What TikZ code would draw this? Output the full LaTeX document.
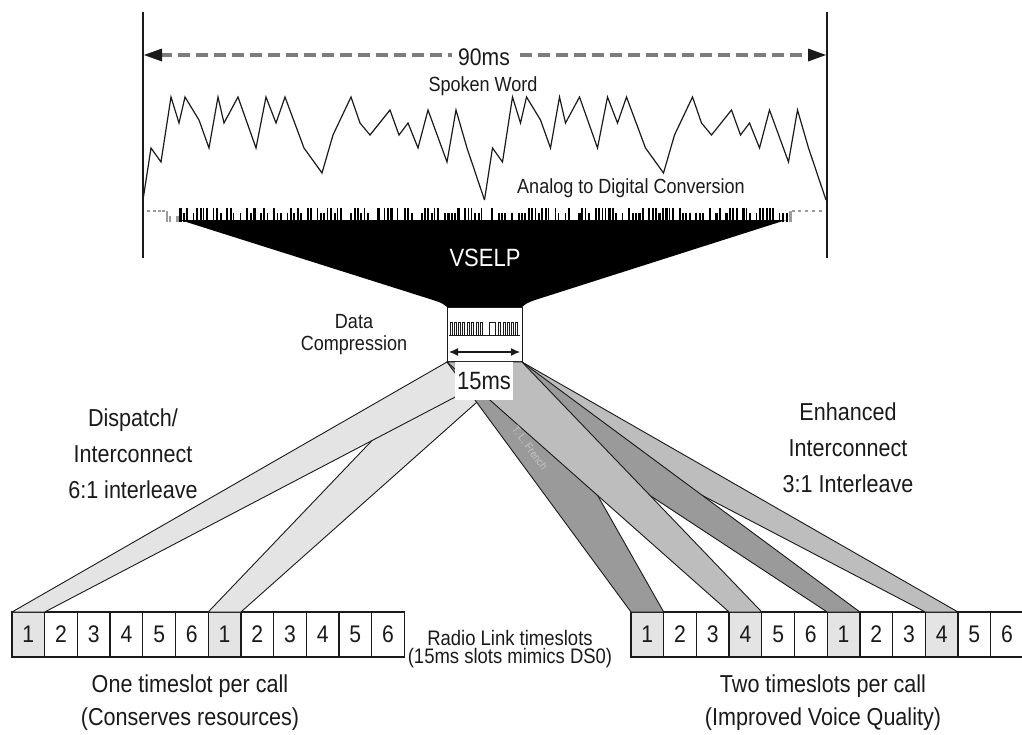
\documentclass[tikz,border=0pt]{standalone}
\usepackage{fontspec}
\setmainfont{Liberation Sans}[FakeStretch=0.88]
\usetikzlibrary{arrows.meta}
\definecolor{ink}{HTML}{1A1A1A}
\definecolor{lite}{HTML}{E4E4E4}
\definecolor{midg}{HTML}{BDBDBD}
\definecolor{darkg}{HTML}{9A9A9A}
\definecolor{dashgray}{HTML}{7C7C7C}
\definecolor{fadegray}{HTML}{9C9C9C}
\definecolor{signgray}{HTML}{C4C4C4}
\tikzset{
  txt/.style={text=ink, inner sep=0pt, align=center},
  big/.style={txt, font=\fontsize{24.5}{36}\selectfont},
  mid/.style={txt, font=\fontsize{20.5}{22}\selectfont},
  slot/.style={draw=ink, line width=1.3pt, minimum width=32.7pt, minimum height=45pt,
               inner sep=0pt, outer sep=0pt, text=ink, font=\fontsize{24}{24}\selectfont},
  beam/.style={draw=ink, line width=0.9pt, line join=round},
  wave/.style={draw=ink, line width=1.2pt, line join=miter},
  tick/.style={ink, line width=1.3pt},
}
\begin{document}
\begin{tikzpicture}[x=1pt,y=-1pt]
\useasboundingbox (0,0) rectangle (1022,734);

% ---- 90 ms frame: end markers and dimension arrow ----
\coordinate (lt) at (143,12);  \coordinate (lb) at (143,258);
\coordinate (rt) at (827,12);  \coordinate (rb) at (827,258);
\draw[tick] (lt) -- (lb);
\draw[tick] (rt) -- (rb);
\coordinate (al) at (144,55);  \coordinate (ar) at (826,55);
\draw[dashgray, line width=3.2pt, dash pattern=on 12pt off 6pt] ([xshift=16pt]al) -- ([xshift=-16pt]ar);
\fill[ink] (al) -- ++(18,-6.5) -- ++(0,13) -- cycle;
\fill[ink] (ar) -- ++(-18,-6.5) -- ++(0,13) -- cycle;
\node[txt, fill=white, inner xsep=6pt, inner ysep=2pt, font=\fontsize{24}{24}\selectfont] (t90) at (484,57) {90ms};
\node[mid] (spoken) at (483,86) {Spoken Word};

% ---- analog speech waveform (two similar halves) ----
\foreach \s in {0,341.5}{
  \draw[wave, shift={(\s,0)}] plot coordinates {
    (143,200) (151,148) (161,162) (171,97) (179,123) (185,97) (199,120) (209,148)
    (218,97) (224,123) (238,97) (256,148) (266,97) (276,123) (285,97) (304,148)
    (322,173) (333,135) (351,97) (360,123) (370,135) (390,110) (399,135) (408,123)
    (418,148) (428,110) (447,162) (456,110) (467,148) (484.5,200)};
}
\node[mid] (adc) at (631,188) {Analog to Digital Conversion};

% ---- sampled bit stream ----
\pgfmathsetseed{42}
\foreach \i in {0,...,186}{
  \pgfmathsetmacro{\bx}{166+\i*3.35}
  \pgfmathsetmacro{\bt}{rnd<0.55 ? 208 : 213}
  \pgfmathsetmacro{\bw}{1.3+1.3*rnd}
  \pgfmathtruncatemacro{\bon}{rnd<0.8 ? 1 : 0}
  \pgfmathtruncatemacro{\edge}{(\bx<179 || \bx>787) ? 1 : 0}
  \ifnum\bon=1
    \ifnum\edge=1
      \fill[fadegray] (\bx,\bt+3) rectangle ++(\bw,219-\bt);
    \else
      \fill[black] (\bx,\bt) rectangle ++(\bw,222-\bt);
    \fi
  \fi
}
\foreach \x in {147,153,158,162}{ \fill[fadegray] (\x,209.5) rectangle ++(2.5,2); }
\foreach \x in {792,798,805,812,819}{ \fill[fadegray] (\x,209.5) rectangle ++(2.5,2); }

% ---- VSELP funnel ----
\fill[black] (180,220) -- (786,220) -- (535,300) .. controls (527,303) .. (522,307)
  -- (447,307) .. controls (442,303) .. (433,300) -- cycle;
\node[txt, text=white, font=\fontsize{25}{25}\selectfont] (vselp) at (485,258) {VSELP};

% ---- compressed 15 ms frame ----
\node[draw=ink, line width=1pt, minimum width=75pt, minimum height=55pt, inner sep=0pt, outer sep=0pt]
  (cbox) at (484.5,334.5) {};
\draw[ink, line width=1pt] (449,335) -- (520,335);
\foreach \a/\b in {450/452,454/456,458/460,462/464,467/469,471/473,476/478,480/482,
                   489/495,498/500,503/505,507/509,511/513,515/517}{
  \draw[ink, line width=1pt] (\a,335) -- (\a,322) -- (\b,322) -- (\b,335);
}
\coordinate (d1) at (449,352); \coordinate (d2) at (520,352);
\draw[ink, line width=1.2pt, {Latex[length=9pt,width=8pt]}-{Latex[length=9pt,width=8pt]}] (d1) -- (d2);
\node[mid] (dcomp) at (354,335) {Data\\Compression};

% ---- radio link timeslots ----
\foreach \i in {1,...,12}{
  \pgfmathtruncatemacro{\d}{mod(\i-1,6)+1}
  \ifnum\d=1 \def\bg{lite}\else\def\bg{white}\fi
  \node[slot, fill=\bg] (a\i) at ({12+(\i-0.5)*32.7},634.5) {\d};
}
\foreach \i in {1,...,12}{
  \pgfmathtruncatemacro{\d}{mod(\i-1,6)+1}
  \pgfmathtruncatemacro{\sh}{(\d==1 || \d==4) ? 1 : 0}
  \ifnum\sh=1 \def\bg{lite}\else\def\bg{white}\fi
  \node[slot, fill=\bg] (b\i) at ({631+(\i-0.5)*32.7},634.5) {\d};
}

% ---- 6:1 interleave paths ----
\filldraw[beam, fill=lite] (cbox.south west) -- (cbox.south east) -- (a7.north east) -- (a7.north west) -- cycle;
\filldraw[beam, fill=lite] (cbox.south west) -- (cbox.south east) -- (a1.north east) -- (a1.north west) -- cycle;

% ---- 3:1 interleave paths ----
\filldraw[beam, fill=midg]  (cbox.south west) -- (cbox.south east) -- (b10.north east) -- (b10.north west) -- cycle;
\filldraw[beam, fill=darkg] (cbox.south west) -- (cbox.south east) -- (b7.north east) -- (b7.north west) -- cycle;
\filldraw[beam, fill=darkg] (cbox.south west) -- (cbox.south east) -- (b1.north east) -- (b1.north west) -- cycle;
\filldraw[beam, fill=midg]  (cbox.south west) -- (cbox.south east) -- (b4.north east) -- (b4.north west) -- cycle;
\node[txt, text=signgray, rotate=-53.6, font=\fontsize{11}{11}\selectfont] (sig) at (530,448) {T. L. French};

\node[txt, fill=white, minimum width=58pt, minimum height=38pt, font=\fontsize{25}{25}\selectfont]
  (t15) at (484,381) {15ms};

% ---- captions ----
\node[big] (disp) at (133,454) {Dispatch/\\Interconnect\\6:1 interleave};
\node[big] (enh) at (848,448) {Enhanced\\Interconnect\\3:1 Interleave};
\node[txt, font=\fontsize{21}{18}\selectfont] (radio) at (510,649) {Radio Link timeslots\\(15ms slots mimics DS0)};
\node[txt, font=\fontsize{24.5}{33}\selectfont] (one) at (190,703) {One timeslot per call\\(Conserves resources)};
\node[txt, font=\fontsize{24.5}{33}\selectfont] (two) at (823,703) {Two timeslots per call\\(Improved Voice Quality)};
\end{tikzpicture}
\end{document}
